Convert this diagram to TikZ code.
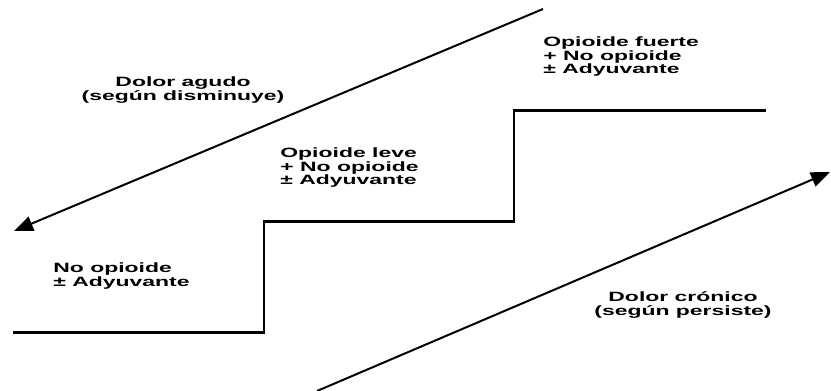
\documentclass[tikz,border=0pt]{standalone}
\usepackage{fontspec}
\setmainfont{Liberation Sans}
\usetikzlibrary{arrows.meta}

\begin{document}
\begin{tikzpicture}[x=1pt, y=-1pt,
		stairline/.style={line width=1.05mm, line join=miter},
		painarrow/.style={line width=0.7mm, -{Triangle[length=19pt, width=15pt]}},
		steplabel/.style={inner sep=0pt, xscale=1.7, align=left, font=\fontsize{13.5}{13.5}\selectfont\bfseries},
		painlabel/.style={steplabel, align=center}]
			%%%%% START %%%%%
			
			\useasboundingbox (0, 0) rectangle (831, 391);
			
			% escalera
			\coordinate (s0) at (12.7, 332.7);
			\coordinate (s1) at (264, 332.7);
			\coordinate (s2) at (264, 221.7);
			\coordinate (s3) at (514, 221.7);
			\coordinate (s4) at (514, 110.7);
			\coordinate (s5) at (766, 110.7);
			\draw[stairline] (s0) -- (s1) -- (s2) -- (s3) -- (s4) -- (s5);
			
			% flechas
			\coordinate (agudoA) at (543, 9);
			\coordinate (agudoB) at (14, 231);
			\draw[painarrow] (agudoA) -- (agudoB);
			
			\coordinate (cronA) at (317, 391);
			\coordinate (cronB) at (830, 172);
			\draw[painarrow] (cronA) -- (cronB);
			
			% textos
			\node[painlabel] (agudo) at (183, 90) {Dolor agudo\\(según disminuye)};
			\node[painlabel] (cronico) at (683, 305) {Dolor crónico\\(según persiste)};
			
			\node[steplabel, anchor=west] (fuerte) at (543, 57) {Opioide fuerte\\+ No opioide\\± Adyuvante};
			\node[steplabel, anchor=west] (leve) at (280, 168) {Opioide leve\\+ No opioide\\± Adyuvante};
			\node[steplabel, anchor=west] (noop) at (53, 276) {No opioide\\± Adyuvante};
			
			%%%%% END %%%%%
		\end{tikzpicture}
\end{document}
